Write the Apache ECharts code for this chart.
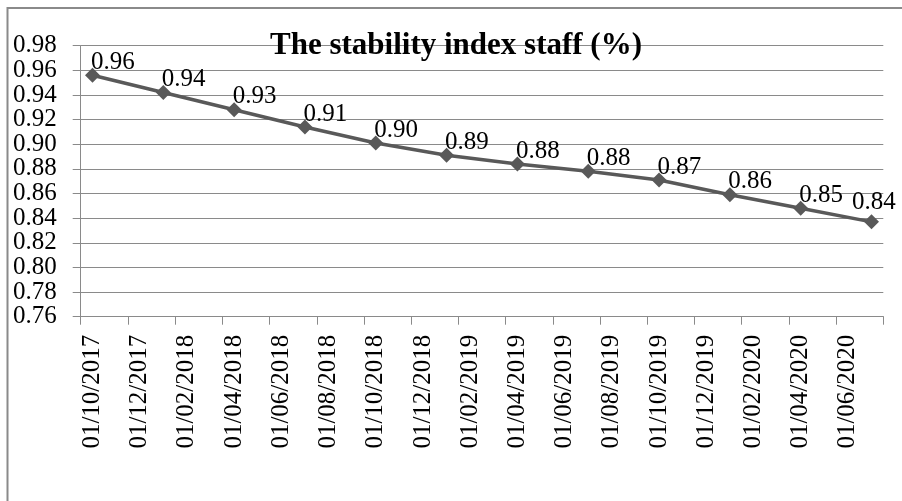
<!DOCTYPE html>
<html>
<head>
<meta charset="utf-8">
<script src="https://cdn.jsdelivr.net/npm/echarts@6/dist/echarts.min.js"></script>
<style>
html,body{margin:0;padding:0;background:#fff;}
#chart{width:902px;height:501px;}
</style>
</head>
<body>
<div id="chart"></div>
<script>
// Monthly category slots of the date axis (Oct 2017 - Jul 2020)
var months = [
  "01/10/2017","01/11/2017","01/12/2017",
  "01/01/2018","01/02/2018","01/03/2018","01/04/2018","01/05/2018","01/06/2018",
  "01/07/2018","01/08/2018","01/09/2018","01/10/2018","01/11/2018","01/12/2018",
  "01/01/2019","01/02/2019","01/03/2019","01/04/2019","01/05/2019","01/06/2019",
  "01/07/2019","01/08/2019","01/09/2019","01/10/2019","01/11/2019","01/12/2019",
  "01/01/2020","01/02/2020","01/03/2020","01/04/2020","01/05/2020","01/06/2020",
  "01/07/2020"
];
// Quarterly observations
var pointDates = [
  "01/10/2017","01/01/2018","01/04/2018","01/07/2018","01/10/2018","01/01/2019",
  "01/04/2019","01/07/2019","01/10/2019","01/01/2020","01/04/2020","01/07/2020"
];
var pointValues = [0.956, 0.942, 0.928, 0.914, 0.901, 0.891, 0.884, 0.878, 0.871, 0.859, 0.848, 0.837];
var yTicks = [0.76, 0.78, 0.80, 0.82, 0.84, 0.86, 0.88, 0.90, 0.92, 0.94, 0.96, 0.98];
var titleText = "The stability index staff (%)";

var lastDate = pointDates[pointDates.length - 1];
var seriesData = months.map(function (m) {
  var i = pointDates.indexOf(m);
  if (i < 0) return null;
  if (m === lastDate) {
    // keep the last label inside the chart, as in the original
    return {value: pointValues[i], label: {offset: [-27, -19]}};
  }
  return {value: pointValues[i]};
});
// tick labels are split over two overlaid axes so the tightly packed labels are all kept
var yLabelsA = yTicks.filter(function (v, i) { return i % 2 === 0; });
var yLabelsB = yTicks.filter(function (v, i) { return i % 2 === 1; });

var FONT = "Liberation Serif";
var GRAY = "#8a8a8a";
function yLabel(values) {
  return {
    customValues: values,
    margin: 24, fontFamily: FONT, fontSize: 25, color: '#000',
    formatter: function (v) { return Number(v).toFixed(2); }
  };
}
var chart = echarts.init(document.getElementById('chart'), null, {renderer: 'canvas'});
chart.setOption({
  animation: false,
  backgroundColor: '#ffffff',
  title: {
    text: titleText,
    left: 456,
    top: 30,
    textAlign: 'center',
    padding: 0,
    textStyle: {fontFamily: FONT, fontWeight: 'bold', fontSize: 31, color: '#000'}
  },
  graphic: [{
    type: 'rect',
    shape: {x: 7.5, y: 8, width: 1000, height: 600},
    style: {fill: 'none', stroke: GRAY, lineWidth: 2},
    silent: true,
    z: -10
  }],
  grid: {left: 80.7, right: 18.7, top: 45.7, bottom: 184.3, containLabel: false},
  xAxis: {
    type: 'category',
    data: months,
    boundaryGap: true,
    axisLine: {lineStyle: {color: GRAY, width: 1}},
    axisTick: {show: true, interval: 1, length: 8, lineStyle: {color: GRAY}},
    axisLabel: {
      interval: 1, rotate: 90, margin: 18,
      fontFamily: FONT, fontSize: 25, color: '#000'
    },
    splitLine: {show: false}
  },
  yAxis: [{
    type: 'value',
    position: 'left',
    min: yTicks[0],
    max: yTicks[yTicks.length - 1],
    interval: 0.02,
    axisLine: {show: true, lineStyle: {color: GRAY, width: 1}},
    axisTick: {show: true, length: 8, lineStyle: {color: GRAY}},
    axisLabel: yLabel(yLabelsA),
    splitLine: {show: true, lineStyle: {color: GRAY, width: 1}}
  }, {
    type: 'value',
    position: 'left',
    offset: 0,
    min: yTicks[0],
    max: yTicks[yTicks.length - 1],
    interval: 0.02,
    axisLine: {show: false},
    axisTick: {show: false},
    axisLabel: yLabel(yLabelsB),
    splitLine: {show: false}
  }],
  series: [{
    type: 'line',
    yAxisIndex: 0,
    data: seriesData,
    connectNulls: true,
    clip: false,
    symbol: 'diamond',
    symbolSize: 15,
    itemStyle: {color: '#595959'},
    lineStyle: {color: '#595959', width: 3.5},
    label: {
      show: true,
      position: 'right',
      distance: 0,
      offset: [-9, -13],
      fontFamily: FONT, fontSize: 25, color: '#000',
      formatter: function (p) { return p.value.toFixed(2); }
    }
  }]
});
</script>
</body>
</html>
